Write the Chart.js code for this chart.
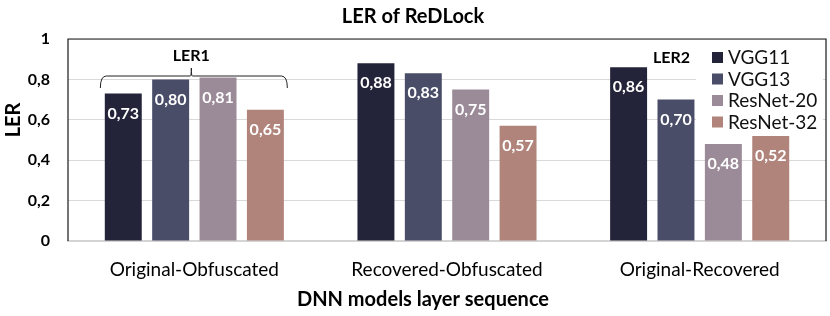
<!DOCTYPE html>
<html>
<head>
<meta charset="utf-8">
<script src="https://cdn.jsdelivr.net/npm/chart.js@4.4.1/dist/chart.umd.min.js"></script>
<style>
  html, body { margin: 0; padding: 0; background: #fff; }
  #wrap { width: 830px; height: 316px; }
</style>
</head>
<body>
<div id="wrap"><canvas id="kk" width="830" height="316"></canvas></div>
<script>
const categories = ['Original-Obfuscated', 'Recovered-Obfuscated', 'Original-Recovered'];
const seriesNames = ['VGG11', 'VGG13', 'ResNet-20', 'ResNet-32'];
const vgg11 = [0.73, 0.88, 0.86];
const vgg13 = [0.80, 0.83, 0.70];
const resnet20 = [0.81, 0.75, 0.48];
const resnet32 = [0.65, 0.57, 0.52];
const yTicks = [0, 0.2, 0.4, 0.6, 0.8, 1];

const colors = ['rgb(35, 35, 58)', 'rgb(73, 77, 104)', 'rgb(155, 139, 152)', 'rgb(177, 132, 123)'];
const FONT = 'Lato';

const fmt = v => v.toFixed(2).replace('.', ',');

// white value labels inside the bar tops
const valueLabels = {
    id: 'valueLabels',
    afterDatasetsDraw(chart) {
        const ctx = chart.ctx;
        ctx.save();
        ctx.font = 'bold 16px ' + FONT;
        ctx.fillStyle = '#fff';
        ctx.textAlign = 'center';
        ctx.textBaseline = 'middle';
        chart.data.datasets.forEach((ds, i) => {
            chart.getDatasetMeta(i).data.forEach((bar, j) => {
                ctx.fillText(fmt(ds.data[j]), bar.x, bar.y + 20);
            });
        });
        ctx.restore();
    }
};

// frame, axis titles, LER1 brace, LER2 text and the legend box
const extras = {
    id: 'extras',
    afterDraw(chart) {
        const ctx = chart.ctx;
        const a = chart.chartArea;
        const x = chart.scales.x;
        ctx.save();

        // frame
        ctx.strokeStyle = '#1a1a1a';
        ctx.lineWidth = 1.2;
        ctx.beginPath();
        ctx.moveTo(a.left, a.bottom);
        ctx.lineTo(a.left, a.top);
        ctx.lineTo(a.right, a.top);
        ctx.lineTo(a.right, a.bottom);
        ctx.stroke();

        ctx.fillStyle = '#000';
        ctx.font = 'bold 20px ' + FONT;
        ctx.textAlign = 'center';
        ctx.textBaseline = 'middle';
        // x axis title (a bit left of the plot centre in the original)
        ctx.fillText('DNN models layer sequence', 423, 300);

        // y axis title (sits above the middle in the original)
        ctx.save();
        ctx.translate(14, 120);
        ctx.rotate(-Math.PI / 2);
        ctx.fillText('LER', 0, 0);
        ctx.restore();

        // brace over first group
        const c0 = x.getPixelForValue(0);
        const l = c0 - 94, r = c0 + 93, yb = 76;
        ctx.strokeStyle = '#222';
        ctx.lineWidth = 1;
        ctx.beginPath();
        ctx.moveTo(l, 88);
        ctx.quadraticCurveTo(l, yb, l + 6, yb);
        ctx.lineTo(c0 - 4, yb);
        ctx.quadraticCurveTo(c0 - 3, yb, c0 - 3, 68);
        ctx.quadraticCurveTo(c0 - 3, yb, c0 - 2, yb);
        ctx.lineTo(r - 6, yb);
        ctx.quadraticCurveTo(r, yb, r, 88);
        ctx.stroke();

        ctx.font = 'bold 16px ' + FONT;
        ctx.fillText('LER1', c0 - 3, 56);

        // legend with white background
        ctx.fillStyle = '#fff';
        ctx.fillRect(696, 45, 127, 90);
        ctx.fillStyle = '#000';
        ctx.textAlign = 'left';
        ctx.fillText('LER2', 653, 58);
        ctx.font = '19px ' + FONT;
        seriesNames.forEach((name, i) => {
            const yy = 58 + i * 21.5;
            ctx.fillStyle = colors[i];
            ctx.fillRect(712, yy - 6, 11, 11);
            ctx.fillStyle = '#111';
            ctx.fillText(name, 728, yy);
        });
        ctx.restore();
    }
};

const ctx2 = document.getElementById('kk').getContext('2d');
const chart2 = new Chart(ctx2, {
    type: 'bar',
    data: {
        labels: categories,
        datasets: [
            { label: seriesNames[0], data: vgg11, backgroundColor: colors[0] },
            { label: seriesNames[1], data: vgg13, backgroundColor: colors[1] },
            { label: seriesNames[2], data: resnet20, backgroundColor: colors[2] },
            { label: seriesNames[3], data: resnet32, backgroundColor: colors[3] }
        ]
    },
    options: {
        responsive: false,
        animation: false,
        layout: { padding: { left: 0, right: 4, top: 0, bottom: 0 } },
        datasets: {
            bar: { categoryPercentage: 0.75, barPercentage: 0.78 }
        },
        plugins: {
            legend: { display: false },
            tooltip: { enabled: false },
            title: {
                display: true,
                text: 'LER of ReDLock',
                color: '#000',
                font: { family: FONT, size: 20, weight: 'bold', lineHeight: 1.2 },
                padding: { top: 5, bottom: 10 }
            }
        },
        scales: {
            x: {
                grid: { display: false, drawTicks: false },
                border: { display: true, color: '#d4d4d4', width: 2 },
                ticks: {
                    color: '#000',
                    padding: 17,
                    font: { family: FONT, size: 19 }
                },
                afterFit(s) { s.height = 75; }
            },
            y: {
                min: 0,
                max: 1,
                afterBuildTicks(s) { s.ticks = yTicks.map(v => ({ value: v })); },
                grid: { color: '#d9d9d9', lineWidth: 1, drawTicks: false },
                border: { display: false },
                ticks: {
                    color: '#000',
                    padding: 18,
                    font: { family: FONT, size: 16, weight: 'bold' },
                    callback: v => String(Math.round(v * 10) / 10).replace('.', ',')
                },
                afterFit(s) { s.width = 68; }
            }
        }
    },
    plugins: [valueLabels, extras]
});
</script>
</body>
</html>
